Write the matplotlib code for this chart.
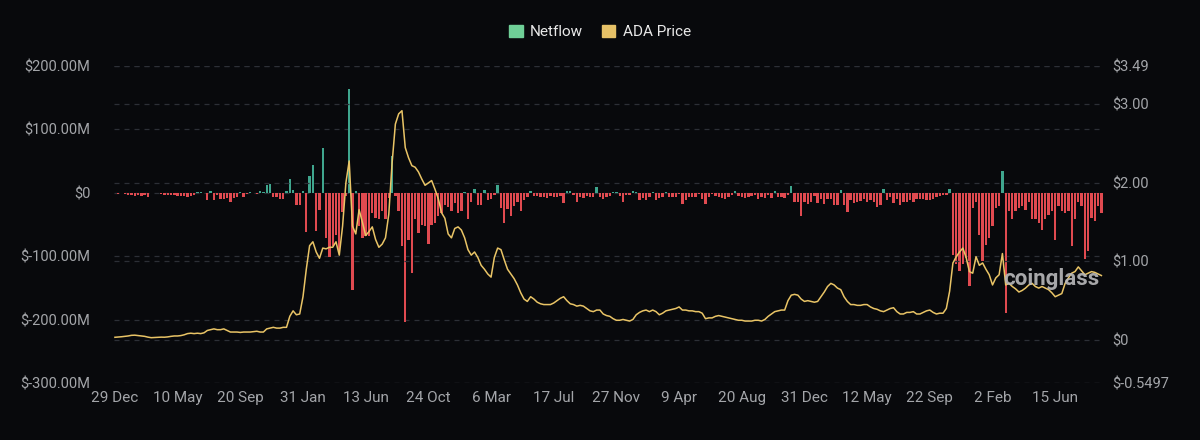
import numpy as np
import pandas as pd
import matplotlib
matplotlib.use("Agg")
import matplotlib.pyplot as plt
from matplotlib.patches import Patch

# weekly netflow in millions USD, starting 2019-12-29
netflow = [
    -1, -2, -1, -2, -3, -4, -5, -4, -5, -4,
    -6, -1, -1, -1, -2, -3, -4, -4, -4, -5,
    -5, -5, -6, -5, -4, 1, 2, -1, -12, 3,
    -11, -4, -10, -10, -8, -14, -8, -6, 2, -6,
    -2, 1, -1, -2, 3, 1, 13, 14, -6, -6,
    -10, -10, 3, 22, 5, -19, -19, 3, -62,
    27, 44, -60, -27, 70, -71, -102, -84, -66, -94,
    -30, -5, 163, -154, 3, -52, -72, -68, -68, -32,
    -39, -42, -29, -41, -8, 58, -5, -29, -84, -203,
    -75, -126, -42, -64, -50, -52, -80,
    -50, -48, -37, -32, -19, -22, -29, -16, -32, -29,
    2, -42, -14, 6, -20, -19, 5, -11, -10, -3,
    12, -24, -48, -26, -37, -21, -14, -29, -11, -6,
    3, -5, -5, -7, -6, -8, -5, -6, -7, -5,
    -16, 3, 3, -4, -14, -6, -8, -5, -7, -6,
    9, -6, -10, -7, -5, 2, 2, -5,
    -15, -3, -3, 3, 2, -11, -8, -11, -6, 2,
    -11, -8, -6, 2, -6, -6, -7, -2, -18, -12,
    -6, -6, -6, -2, -10, -18, -6, -2, -5, -6,
    -8, -10, -7, -3, 3, -5, -6, -8, -6, -5,
    -3, -9, -6, -8, -3, -8, 3, -7, -6, -8,
    -3, 10, -14, -15, -37, -15, -17,
    -15, -5, -16, -10, -17, -10, -10, -19, -19, 4,
    -19, -31, -12, -16, -15, -13, -10, -15, -12, -14,
    -23, -20, 6, -11, -7, -16, -9, -19, -14, -14,
    -12, -14, -10, -10, -9, -12, -12, -10, -7, -5,
    -4, -3,
    6, -98, -113, -124, -113, -103, -147, -24, -14, -66,
    -108, -82, -71, -53, -24, -21, 34, -190, -29, -42,
    -29, -24, -21, -27, -14, -42, -42, -48, -58, -42,
    -35, -29, -74, -21, -29, -32, -29, -84, -42, -14,
    -21, -105, -92, -40, -45, -21, -32,
]

# weekly ADA price in USD
price = [
    0.033, 0.036, 0.040, 0.045, 0.050, 0.058, 0.060, 0.055, 0.050, 0.045,
    0.035, 0.028, 0.030, 0.032, 0.035, 0.034, 0.038, 0.045, 0.050, 0.050,
    0.055, 0.065, 0.080, 0.085, 0.080, 0.085, 0.080, 0.090, 0.120, 0.130,
    0.140, 0.130, 0.130, 0.140, 0.120, 0.100, 0.100, 0.100, 0.095, 0.100,
    0.100, 0.100, 0.105, 0.110, 0.100, 0.100, 0.140, 0.150, 0.160, 0.150,
    0.150, 0.160, 0.160,
    0.30, 0.37, 0.32, 0.33, 0.55, 0.90, 1.20, 1.25, 1.12, 1.04,
    1.17, 1.16, 1.18, 1.18, 1.25, 1.08, 1.45, 2.00, 2.28, 1.45,
    1.35, 1.66, 1.50, 1.33, 1.38, 1.44, 1.28, 1.18, 1.22, 1.30,
    1.60, 2.25, 2.75, 2.88, 2.92, 2.45, 2.32, 2.22, 2.20, 2.14,
    2.05, 1.97, 2.00, 2.03, 1.92,
    1.80, 1.62, 1.55, 1.35, 1.30, 1.42, 1.44, 1.40, 1.30, 1.15,
    1.08, 1.12, 1.05, 0.95, 0.90, 0.84, 0.80, 1.05, 1.17, 1.15,
    1.02, 0.90, 0.84, 0.78, 0.70, 0.60, 0.52, 0.49, 0.55, 0.52,
    0.48, 0.46, 0.45, 0.45, 0.45, 0.47, 0.50, 0.53, 0.55, 0.50,
    0.46, 0.45, 0.43, 0.44, 0.43, 0.40, 0.37, 0.36, 0.38, 0.38,
    0.33, 0.31, 0.30, 0.27, 0.25, 0.25, 0.26,
    0.25, 0.24, 0.26, 0.32, 0.35, 0.37, 0.38, 0.36, 0.38, 0.36,
    0.32, 0.34, 0.37, 0.38, 0.39, 0.40, 0.42, 0.38, 0.38, 0.37,
    0.37, 0.36, 0.36, 0.34, 0.27, 0.28, 0.28, 0.30, 0.31, 0.30,
    0.29, 0.28, 0.27, 0.26, 0.25, 0.25, 0.24, 0.24, 0.24, 0.25,
    0.25, 0.24, 0.26, 0.30, 0.33, 0.36, 0.37, 0.38, 0.38, 0.50,
    0.57, 0.58, 0.57, 0.52, 0.49, 0.50, 0.49, 0.48, 0.49, 0.55,
    0.61, 0.68, 0.72, 0.70, 0.66, 0.64, 0.55, 0.49, 0.45, 0.45,
    0.44, 0.44, 0.45, 0.45, 0.42, 0.40, 0.39, 0.37, 0.36, 0.38,
    0.40, 0.41, 0.36, 0.33, 0.33, 0.35, 0.35, 0.36, 0.33, 0.33,
    0.35, 0.37, 0.38, 0.35, 0.33, 0.34, 0.34, 0.40,
    0.62, 0.98, 1.06, 1.12, 1.17, 1.05, 0.87, 0.85, 1.06, 0.95,
    0.98, 0.90, 0.83, 0.70, 0.79, 0.83, 1.10, 0.70, 0.72, 0.68,
    0.65, 0.61, 0.63, 0.66, 0.70, 0.72, 0.68, 0.66, 0.68, 0.66,
    0.64, 0.60, 0.55, 0.57, 0.59, 0.72, 0.79, 0.85, 0.87, 0.93,
    0.88, 0.83, 0.85, 0.87, 0.86, 0.84, 0.82,
]

left_ticks = [-300e6, -200e6, -100e6, 0, 100e6, 200e6]
left_labels = ['$-300.00M', '$-200.00M', '$-100.00M', '$0', '$100.00M', '$200.00M']
right_ticks = [-0.5497, 0, 1, 2, 3, 3.49]
right_labels = ['$-0.5497', '$0', '$1.00', '$2.00', '$3.00', '$3.49']

bg = '#08090c'
green = '#3fa68e'
red = '#e04a50'
yellow = '#e9c466'
grid_c = '#2c2f36'
tick_c = '#a3a5a9'

plt.rcParams['font.family'] = ['Roboto', 'DejaVu Sans']

dates = pd.date_range('2019-12-29', periods=len(netflow), freq='7D')
flow = np.array(netflow) * 1e6

fig = plt.figure(figsize=(12, 4.4), dpi=100, facecolor=bg)
ax = fig.add_axes([0.095, 0.1295, 0.824, 0.7205])
ax.set_facecolor(bg)
ax2 = ax.twinx()

colors = [green if v >= 0 else red for v in flow]
ax.bar(dates, flow, width=5, color=colors, zorder=2)
ax.set_ylim(-300e6, 200e6)
ax.set_yticks(left_ticks)
ax.set_yticklabels(left_labels)

ax2.plot(dates, price, color=yellow, lw=1.1, zorder=3)
ax2.set_ylim(-0.5497, 3.49)
ax2.set_yticks(right_ticks)
ax2.set_yticklabels(right_labels)

ax.set_xlim(dates[0] - pd.Timedelta(days=2), dates[-1] + pd.Timedelta(days=3))
tick_pos = dates[::19]
ax.set_xticks(tick_pos)
ax.set_xticklabels([f"{d.day} {d.strftime('%b')}" for d in tick_pos])

for a in (ax, ax2):
    a.grid(axis='y', color=grid_c, linestyle=(0, (4, 4)), linewidth=0.9)
    a.set_axisbelow(True)
    for s in a.spines.values():
        s.set_visible(False)
    a.tick_params(colors=tick_c, labelsize=10.5, length=0)
ax.tick_params(axis='x', labelsize=11, pad=6)
ax.tick_params(axis='y', pad=17)
ax2.tick_params(axis='y', pad=6.5)

handles = [Patch(color='#6fcf97', label='Netflow'), Patch(color='#e6c167', label='ADA Price')]
fig.legend(handles=handles, loc='center', bbox_to_anchor=(0.5, 0.927), ncol=2,
           frameon=False, labelcolor='#e8e8e8', fontsize=11, handlelength=0.9,
           handleheight=0.9, columnspacing=1.2, handletextpad=0.5)

fig.text(0.876, 0.367, 'coinglass', color='#b9b9bb', fontsize=16, fontweight='bold',
         ha='center', va='center', alpha=0.9)

fig.savefig('out.png', facecolor=bg)
